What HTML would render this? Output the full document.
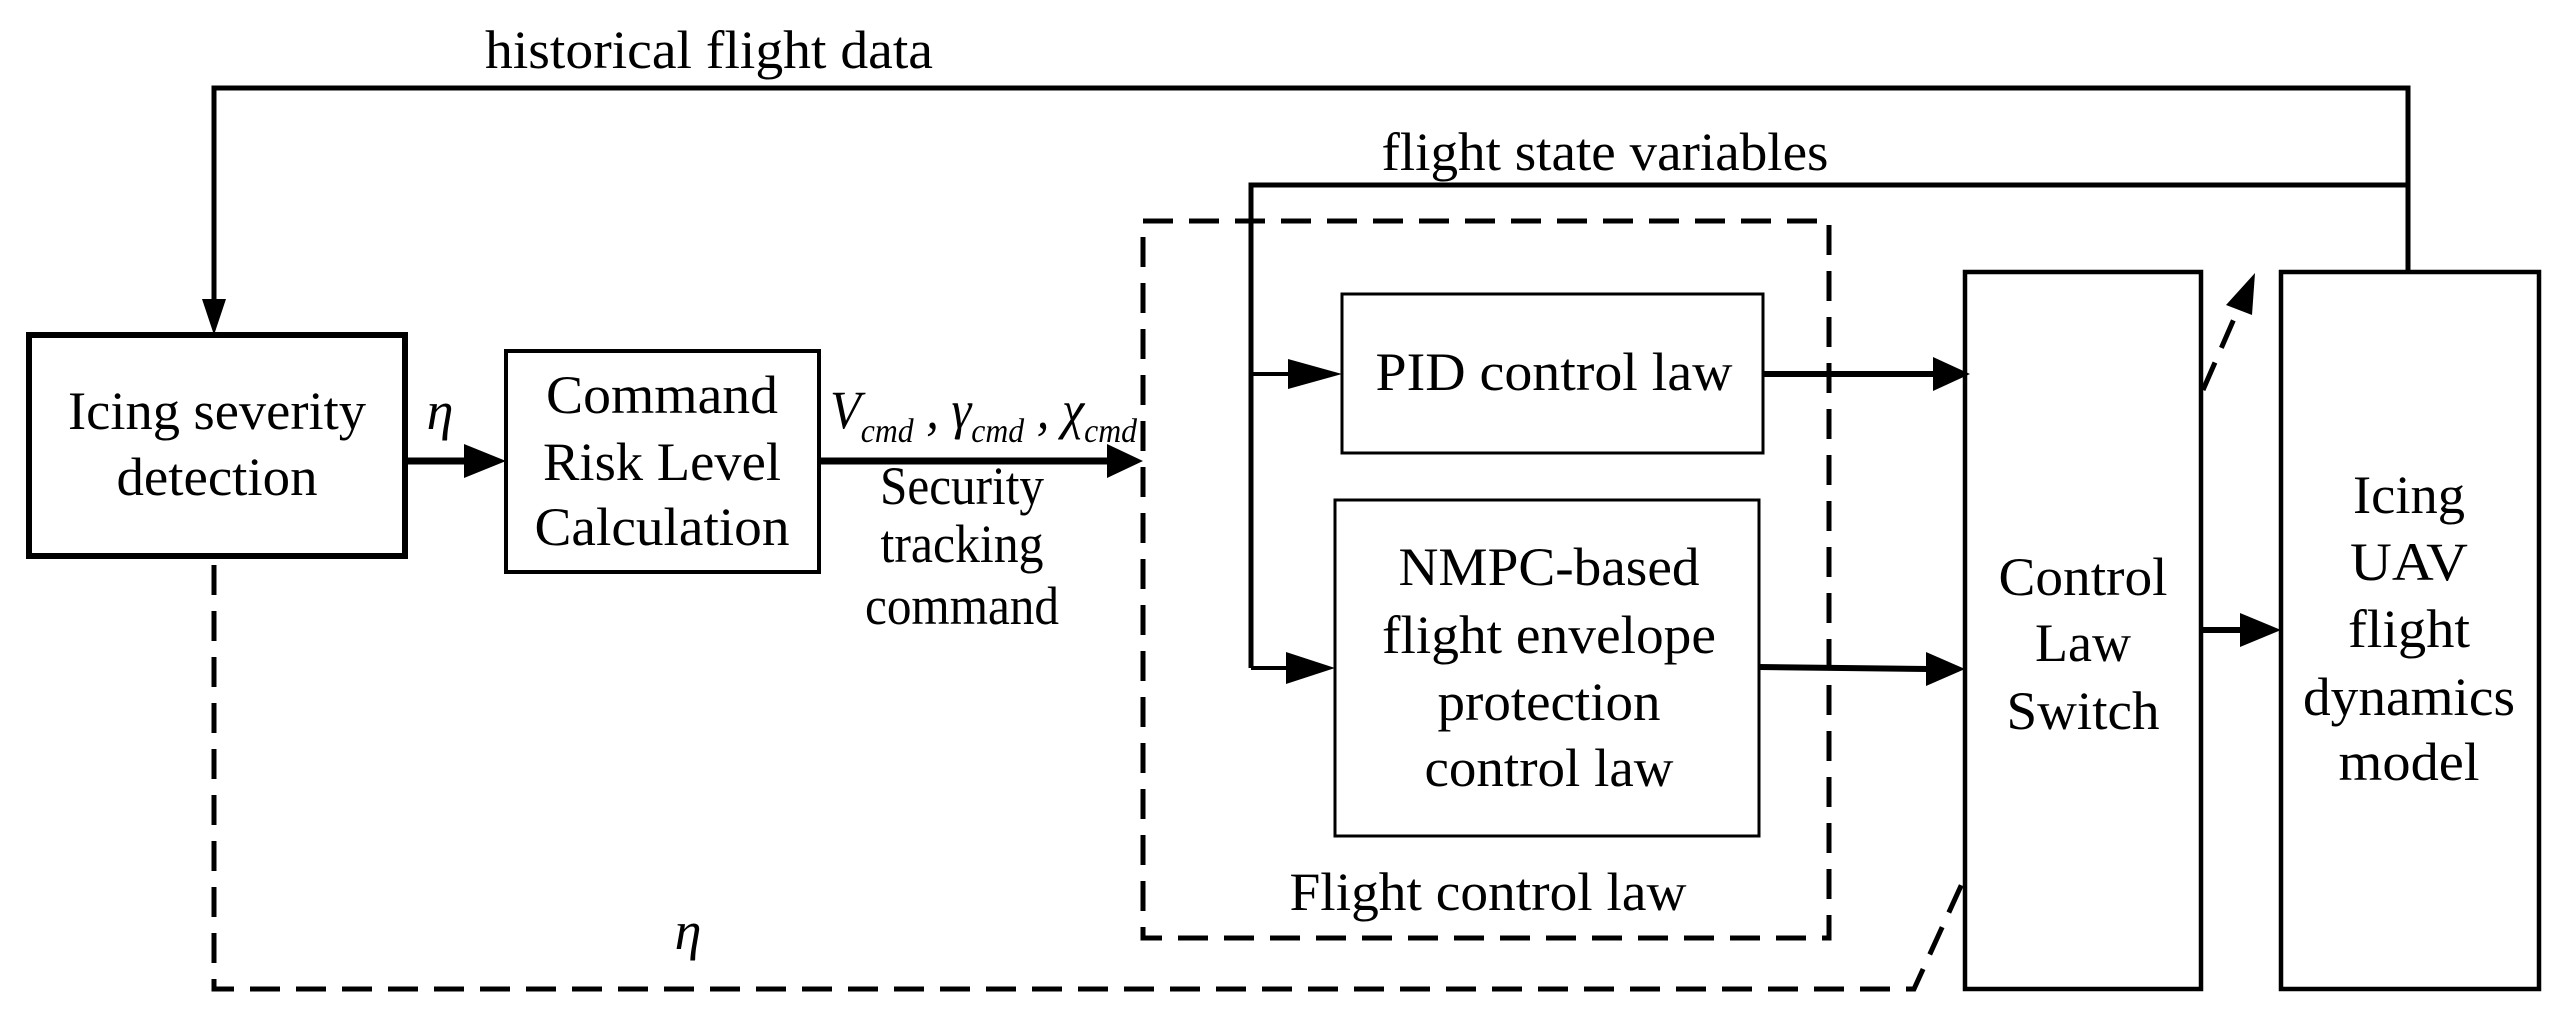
<!DOCTYPE html>
<html><head><meta charset="utf-8"><style>
html,body{margin:0;padding:0;background:#fff;}
svg{display:block;}
text{font-family:"Liberation Serif","Times New Roman",serif;font-size:54px;fill:#000;}
</style></head><body>
<svg width="2575" height="1019" viewBox="0 0 2575 1019" xmlns="http://www.w3.org/2000/svg">
<g stroke="#000" fill="none">
<polyline points="214,299 214,88 2408,88 2408,272" stroke-width="5"/>
<polyline points="1251,668 1251,185 2408,185" stroke-width="5"/>
<rect x="29" y="335" width="376" height="221" stroke-width="6"/>
<rect x="506" y="351" width="313" height="221" stroke-width="4"/>
<rect x="1342" y="294" width="421" height="159" stroke-width="3"/>
<rect x="1335" y="500" width="424" height="336" stroke-width="3"/>
<rect x="1965" y="272" width="236" height="717" stroke-width="4.5"/>
<rect x="2281" y="272" width="258" height="717" stroke-width="4.5"/>
<rect x="1143" y="221" width="686" height="717" stroke-width="5" stroke-dasharray="30,16"/>
<line x1="405" y1="461" x2="466" y2="461" stroke-width="7"/>
<line x1="819" y1="461" x2="1110" y2="461" stroke-width="7"/>
<line x1="1251" y1="374" x2="1290" y2="374" stroke-width="4"/>
<line x1="1251" y1="668" x2="1288" y2="668" stroke-width="4"/>
<line x1="1763" y1="374" x2="1935" y2="374" stroke-width="6"/>
<line x1="1759" y1="667" x2="1928" y2="669" stroke-width="6"/>
<line x1="2201" y1="630" x2="2242" y2="630" stroke-width="6"/>
<polyline points="214,565 214,989 1914,989 1965,877" stroke-width="5" stroke-dasharray="30,16"/>
<line x1="2203" y1="390" x2="2240" y2="305" stroke-width="5" stroke-dasharray="30,16"/>
</g>
<g fill="#000">
<polygon points="202,299 226,299 214,335"/>
<polygon points="464,444 464,478 506,461"/>
<polygon points="1107,444 1107,478 1143,461"/>
<polygon points="1288,359 1288,389 1342,374"/>
<polygon points="1286,652 1286,684 1335,668"/>
<polygon points="1933,357 1933,391 1970,374"/>
<polygon points="1926,652 1926,686 1965,669"/>
<polygon points="2240,613 2240,647 2281,630"/>
<polygon points="2255,273 2226,305 2252,315"/>
</g>
<g text-anchor="middle">
<text x="709" y="68" textLength="448" lengthAdjust="spacingAndGlyphs">historical flight data</text>
<text x="1605" y="170" textLength="447" lengthAdjust="spacingAndGlyphs">flight state variables</text>
<text x="217" y="429" textLength="298" lengthAdjust="spacingAndGlyphs">Icing severity</text>
<text x="217" y="495" textLength="201" lengthAdjust="spacingAndGlyphs">detection</text>
<text x="662" y="413" textLength="232" lengthAdjust="spacingAndGlyphs">Command</text>
<text x="662" y="480" textLength="238" lengthAdjust="spacingAndGlyphs">Risk Level</text>
<text x="662" y="545" textLength="255" lengthAdjust="spacingAndGlyphs">Calculation</text>
<text x="962" y="504" textLength="164" lengthAdjust="spacingAndGlyphs">Security</text>
<text x="962" y="562" textLength="163" lengthAdjust="spacingAndGlyphs">tracking</text>
<text x="962" y="624" textLength="194" lengthAdjust="spacingAndGlyphs">command</text>
<text x="1554" y="390" textLength="357" lengthAdjust="spacingAndGlyphs">PID control law</text>
<text x="1549" y="585" textLength="301" lengthAdjust="spacingAndGlyphs">NMPC-based</text>
<text x="1549" y="653" textLength="334" lengthAdjust="spacingAndGlyphs">flight envelope</text>
<text x="1549" y="720" textLength="223" lengthAdjust="spacingAndGlyphs">protection</text>
<text x="1549" y="786" textLength="249" lengthAdjust="spacingAndGlyphs">control law</text>
<text x="1488" y="910" textLength="397" lengthAdjust="spacingAndGlyphs">Flight control law</text>
<text x="2083" y="595" textLength="169" lengthAdjust="spacingAndGlyphs">Control</text>
<text x="2083" y="661" textLength="96" lengthAdjust="spacingAndGlyphs">Law</text>
<text x="2083" y="729" textLength="153" lengthAdjust="spacingAndGlyphs">Switch</text>
<text x="2409" y="513" textLength="112" lengthAdjust="spacingAndGlyphs">Icing</text>
<text x="2409" y="580" textLength="118" lengthAdjust="spacingAndGlyphs">UAV</text>
<text x="2409" y="647" textLength="122" lengthAdjust="spacingAndGlyphs">flight</text>
<text x="2409" y="715" textLength="212" lengthAdjust="spacingAndGlyphs">dynamics</text>
<text x="2409" y="780" textLength="141" lengthAdjust="spacingAndGlyphs">model</text>
<text x="440" y="429" font-style="italic" font-size="44">η</text>
<text x="688" y="949" font-style="italic" font-size="44">η</text>
</g>
<text x="830" y="428" font-style="italic" font-size="56" textLength="307" lengthAdjust="spacingAndGlyphs">V<tspan font-size="34" dy="14">cmd</tspan><tspan dy="-14"> , γ</tspan><tspan font-size="34" dy="14">cmd</tspan><tspan dy="-14"> , χ</tspan><tspan font-size="34" dy="14">cmd</tspan></text>
</svg>
</body></html>
